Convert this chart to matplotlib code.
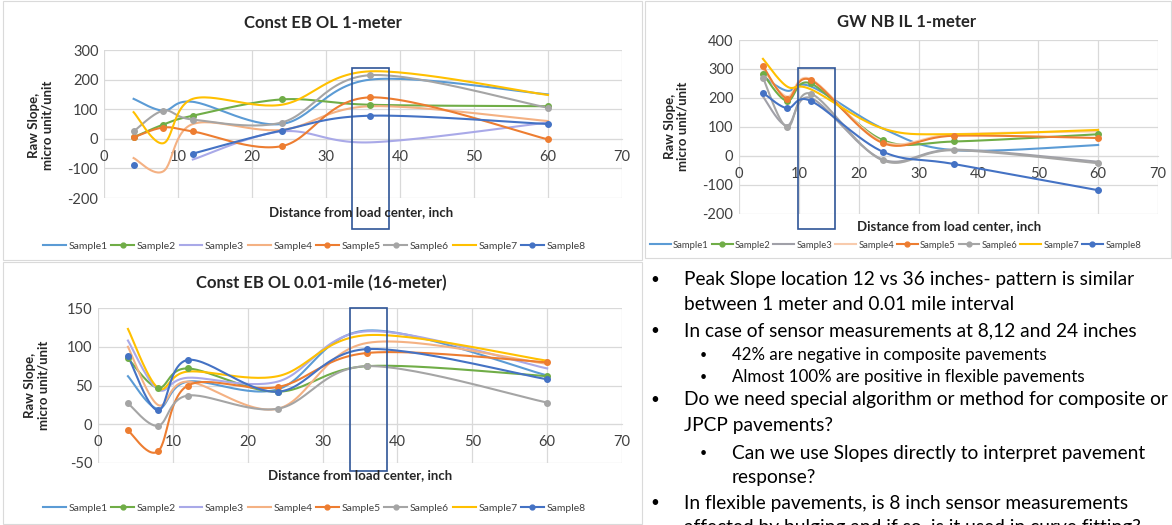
import numpy as np
import matplotlib.pyplot as plt
from matplotlib.patches import Rectangle
from matplotlib.lines import Line2D

plt.rcParams['font.family'] = ['Lato', 'DejaVu Sans']
plt.rcParams['axes.unicode_minus'] = False

W, H = 1172, 525

distance = [4, 8, 12, 24, 36, 60]
sample_names = ["Sample1", "Sample2", "Sample3", "Sample4",
                "Sample5", "Sample6", "Sample7", "Sample8"]
nan = np.nan

# Const EB OL 1-meter
eb_1m = {
    "Sample1": [135, 95, 125, 50, 200, 150],
    "Sample2": [5, 48, 78, 133, 115, 110],
    "Sample3": [nan, nan, -70, 25, -12, 55],
    "Sample4": [-65, -110, 50, 30, 110, 60],
    "Sample5": [5, 38, 25, -25, 140, -2],
    "Sample6": [25, 95, 65, 55, 215, 105],
    "Sample7": [90, -15, 135, 115, 228, 148],
    "Sample8": [-90, nan, -50, 28, 78, 50],
}

# GW NB IL 1-meter
gw_1m = {
    "Sample1": [275, 225, 240, 95, 20, 38],
    "Sample2": [283, 190, 250, 55, 50, 75],
    "Sample3": [205, 105, 200, -12, 22, -20],
    "Sample4": [300, 205, 265, 50, 75, 85],
    "Sample5": [310, 198, 262, 45, 70, 62],
    "Sample6": [270, 100, 215, -15, 20, -25],
    "Sample7": [335, 240, 230, 95, 75, 90],
    "Sample8": [218, 165, 190, 15, -28, -118],
}

# Const EB OL 0.01-mile (16-meter)
eb_16m = {
    "Sample1": [62, 20, 55, 45, 121, 63],
    "Sample2": [85, 47, 72, 42, 75, 62],
    "Sample3": [108, 45, 60, 55, 120, 72],
    "Sample4": [100, 25, 55, 20, 105, 78],
    "Sample5": [-8, -35, 50, 48, 92, 80],
    "Sample6": [27, -2, 37, 20, 75, 28],
    "Sample7": [123, 47, 68, 62, 115, 82],
    "Sample8": [88, 18, 83, 42, 97, 58],
}

colors = {
    "Sample1": "#5B9BD5", "Sample2": "#70AD47", "Sample3": "#A9A9E8",
    "Sample4": "#F4B183", "Sample5": "#ED7D31", "Sample6": "#A5A5A5",
    "Sample7": "#FFC000", "Sample8": "#4472C4",
}
colors_gw = dict(colors, Sample3="#A0A0A8", Sample4="#F8CBAD")
with_marker = {"Sample2", "Sample5", "Sample6", "Sample8"}

# (level, text, y pixel, bullet shown, font size)
bullet_lines = [
    (0, "Peak Slope location 12 vs 36 inches- pattern is similar", 280, True, 13.8),
    (0, "between 1 meter and 0.01 mile interval", 304, False, 13.8),
    (0, "In case of sensor measurements at 8,12 and 24 inches", 331, True, 13.8),
    (1, "42% are negative in composite pavements", 355, True, 12.2),
    (1, "Almost 100% are positive in flexible pavements", 377, True, 12.2),
    (0, "Do we need special algorithm or method for composite or", 400, True, 13.8),
    (0, "JPCP pavements?", 426, False, 13.8),
    (1, "Can we use Slopes directly to interpret pavement", 453, True, 13.8),
    (1, "response?", 478, False, 13.8),
    (0, "In flexible pavements, is 8 inch sensor measurements", 503, True, 13.8),
    (0, "affected by bulging and if so, is it used in curve fitting?", 528, False, 13.8),
]


def fx(px):
    return px / W


def fy(py):
    return 1 - py / H


def smooth(xs, ys, n=30):
    # excel-like smoothed line (catmull-rom as bezier)
    p = np.column_stack([xs, ys])
    out = []
    for i in range(len(p) - 1):
        p0 = p[max(i - 1, 0)]
        p1, p2 = p[i], p[i + 1]
        p3 = p[min(i + 2, len(p) - 1)]
        c1 = p1 + (p2 - p0) / 6
        c2 = p2 - (p3 - p1) / 6
        t = np.linspace(0, 1, n)[:, None]
        seg = (1 - t) ** 3 * p1 + 3 * (1 - t) ** 2 * t * c1 + 3 * (1 - t) * t ** 2 * c2 + t ** 3 * p2
        out.append(seg if i == 0 else seg[1:])
    return np.vstack(out)


def draw_chart(rect, data, cols, ylim, ystep, title, title_xy, ylab_xy, xlab_xy,
               leg_xy, box, leg_fs=7.5, leg_sp=0.35):
    ax = fig.add_axes(rect)
    x = np.array(distance, dtype=float)
    for name in sample_names:
        y = np.array(data[name], dtype=float)
        ok = ~np.isnan(y)
        # split into runs without gaps
        runs, cur = [], []
        for i in range(len(y)):
            if ok[i]:
                cur.append(i)
            elif cur:
                runs.append(cur)
                cur = []
        if cur:
            runs.append(cur)
        for r in runs:
            if len(r) > 1:
                s = smooth(x[r], y[r])
                ax.plot(s[:, 0], s[:, 1], color=cols[name], lw=1.5, zorder=3)
        if name in with_marker:
            ax.plot(x[ok], y[ok], ls="none", marker="o", ms=4, color=cols[name], zorder=4)
    ax.set_xlim(0, 70)
    ax.set_ylim(*ylim)
    ax.set_xticks(range(0, 71, 10))
    ax.set_yticks(np.arange(ylim[0], ylim[1] + 1, ystep))
    ax.grid(True, color="#D9D9D9", lw=0.9)
    ax.set_axisbelow(True)
    for sp in ["top", "right", "left"]:
        ax.spines[sp].set_visible(False)
    ax.spines["bottom"].set_position(("data", 0))
    ax.spines["bottom"].set_color("#D9D9D9")
    ax.tick_params(length=0, labelsize=10.5, colors="#404040", pad=8)
    ax.tick_params(axis="y", pad=4)
    fig.text(fx(title_xy[0]), fy(title_xy[1]), title, ha="center", va="center",
             fontsize=12, fontweight="bold", color="#262626")
    fig.text(fx(ylab_xy[0]), fy(ylab_xy[1]), "Raw Slope,\nmicro unit/unit", ha="center", va="center",
             rotation=90, fontsize=9.5, fontweight="bold", color="#262626", linespacing=1.1)
    fig.text(fx(xlab_xy[0]), fy(xlab_xy[1]), "Distance from load center, inch", ha="center", va="center",
             fontsize=9.5, fontweight="bold", color="#262626")
    handles = []
    for name in sample_names:
        handles.append(Line2D([], [], color=cols[name], lw=1.5,
                              marker="o" if name in with_marker else None, ms=3.5))
    ax.legend(handles, sample_names, loc="center left", bbox_to_anchor=(fx(leg_xy[0]), fy(leg_xy[1])),
              bbox_transform=fig.transFigure, ncol=8, frameon=False, fontsize=leg_fs,
              handlelength=2.2, handletextpad=0.25, columnspacing=leg_sp, labelcolor="#404040",
              borderaxespad=0, borderpad=0)
    ax.add_patch(Rectangle((box[0], box[2]), box[1] - box[0], box[3] - box[2], fill=False,
                           edgecolor="#2F5597", lw=1.2, clip_on=False, zorder=6))
    return ax


fig = plt.figure(figsize=(W / 100, H / 100), dpi=100)

# panel frames
for (x0, y0, x1, y1) in [(3, 1, 642, 260), (3, 262, 642, 524), (645, 1, 1171, 258)]:
    fig.patches.append(Rectangle((fx(x0), fy(y1)), fx(x1 - x0), (y1 - y0) / H,
                                 transform=fig.transFigure, fill=False, edgecolor="#DADADA", lw=0.8))

draw_chart([fx(104), fy(198), fx(622 - 104), (198 - 50) / H], eb_1m, colors, (-200, 300), 100,
           "Const EB OL 1-meter", (323, 23), (41, 125), (361, 212), (43, 246), (33.5, 38.5, -305, 239))
draw_chart([fx(739), fy(214), fx(1158 - 739), (214 - 40) / H], gw_1m, colors_gw, (-200, 400), 100,
           "GW NB IL 1-meter", (907, 22), (676, 126), (949, 226), (650, 245), (9.8, 16.0, -252, 303),
           leg_fs=6.8, leg_sp=0.3)
draw_chart([fx(98), fy(463), fx(622 - 98), (463 - 308) / H], eb_16m, colors, (-50, 150), 50,
           "Const EB OL 0.01-mile (16-meter)", (321, 283), (37, 385), (360, 475), (43, 508), (33.6, 38.6, -60, 150))

# bullet text
for level, txt, ypx, dot, fs in bullet_lines:
    if level == 0:
        if dot:
            fig.text(fx(655), fy(ypx), "\u2022", ha="center", va="center", fontsize=11)
        fig.text(fx(684), fy(ypx), txt, ha="left", va="center", fontsize=fs, color="#000000")
    else:
        if dot:
            fig.text(fx(703), fy(ypx), "\u2022", ha="center", va="center", fontsize=9)
        fig.text(fx(732), fy(ypx), txt, ha="left", va="center", fontsize=fs, color="#000000")

fig.savefig("out.png", dpi=100)
